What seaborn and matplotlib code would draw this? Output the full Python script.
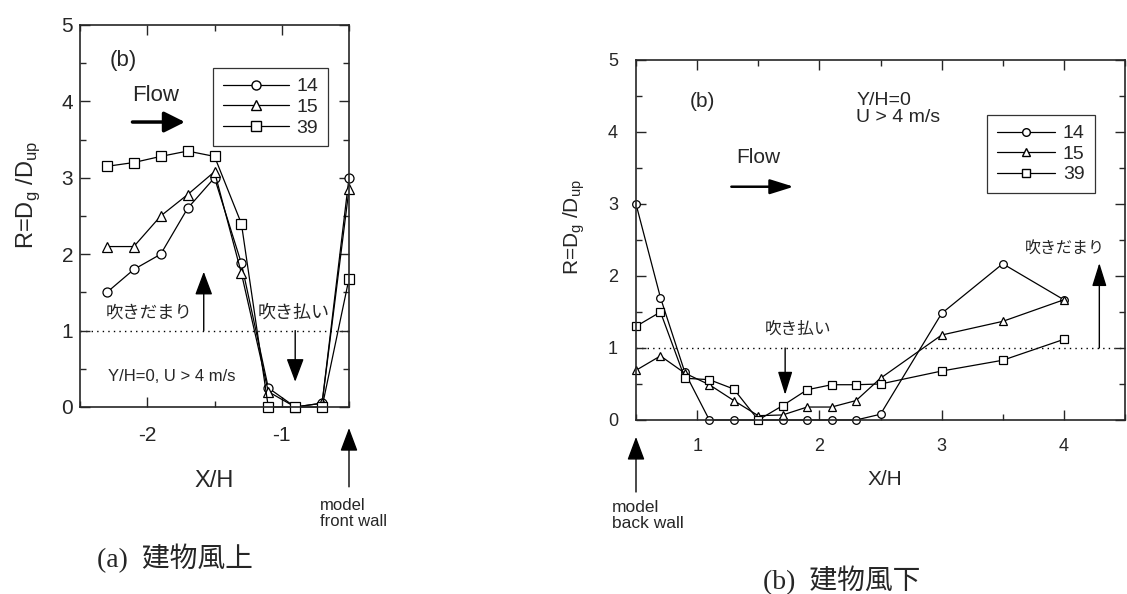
import numpy as np
import pandas as pd
import matplotlib
matplotlib.use("Agg")
import matplotlib.pyplot as plt
from matplotlib.lines import Line2D
from matplotlib.ticker import MultipleLocator
import seaborn as sns

# ---------------- DATA ----------------
cases = ["14", "15", "39"]
case_markers = {"14": "o", "15": "^", "39": "s"}

# (a) upwind side of the building
x_up = [-2.3, -2.1, -1.9, -1.7, -1.5, -1.3, -1.1, -0.9, -0.7, -0.5]
r_up_14 = [1.5, 1.8, 2.0, 2.6, 3.0, 1.88, 0.25, 0.0, 0.05, 3.0]
r_up_15 = [2.1, 2.1, 2.5, 2.78, 3.08, 1.75, 0.2, 0.0, 0.05, 2.85]
r_up_39 = [3.15, 3.2, 3.28, 3.35, 3.28, 2.4, 0.0, 0.0, 0.0, 1.68]

# (b) downwind side of the building
x_dn = [0.5, 0.7, 0.9, 1.1, 1.3, 1.5, 1.7, 1.9, 2.1, 2.3, 2.5, 3.0, 3.5, 4.0]
r_dn_14 = [3.0, 1.7, 0.66, 0.0, 0.0, 0.0, 0.0, 0.0, 0.0, 0.0, 0.08, 1.48, 2.17, 1.67]
r_dn_15 = [0.69, 0.89, 0.65, 0.49, 0.27, 0.06, 0.07, 0.18, 0.18, 0.27, 0.58, 1.18, 1.37, 1.67]
r_dn_39 = [1.3, 1.5, 0.58, 0.56, 0.43, 0.0, 0.2, 0.42, 0.49, 0.49, 0.5, 0.68, 0.83, 1.12]

up = pd.DataFrame({"x": x_up * 3,
                   "R": r_up_14 + r_up_15 + r_up_39,
                   "case": np.repeat(cases, len(x_up))})
dn = pd.DataFrame({"x": x_dn * 3,
                   "R": r_dn_14 + r_dn_15 + r_dn_39,
                   "case": np.repeat(cases, len(x_dn))})

# ---------------- STYLE ----------------
sns.set_style("ticks")
plt.rcParams["font.family"] = ["Liberation Sans", "Noto Sans CJK JP"]
plt.rcParams["axes.unicode_minus"] = False
plt.rcParams["mathtext.fontset"] = "custom"
plt.rcParams["mathtext.rm"] = "Liberation Sans"
jp = ["Noto Sans CJK JP", "Liberation Sans"]

fig = plt.figure(figsize=(11.27, 5.94), dpi=100)
W, H = 1127, 594
ax1 = fig.add_axes([80 / W, 1 - 407 / H, 269 / W, 382 / H])
ax2 = fig.add_axes([636 / W, 1 - 420 / H, 489 / W, 360 / H])

arrow_thin = "-|>,head_length=0.8,head_width=0.3"


def draw(ax, df, ms):
    sns.lineplot(data=df, x="x", y="R", style="case", markers=case_markers,
                 dashes=False, color="black", lw=0.9, markersize=ms,
                 markerfacecolor="white", markeredgecolor="black",
                 markeredgewidth=0.9, estimator=None, sort=False,
                 legend=False, ax=ax, clip_on=False)
    ax.axhline(1, ls=(0, (1, 3)), lw=1, color="black", zorder=0)
    for s in ax.spines.values():
        s.set_linewidth(1.2)
        s.set_visible(True)
    ax.set_ylim(0, 5)
    ax.yaxis.set_major_locator(MultipleLocator(1))
    ax.yaxis.set_minor_locator(MultipleLocator(0.5))
    ax.xaxis.set_minor_locator(MultipleLocator(0.5))
    ax.tick_params(which="both", direction="in", top=True, right=True,
                   width=1)
    ax.tick_params(which="major", length=7)
    ax.tick_params(which="minor", length=4)


def make_legend(ax, anchor, ms, fs, hl):
    handles = [Line2D([], [], color="black", lw=0.9, marker=case_markers[c],
                      markersize=ms, markerfacecolor="white",
                      markeredgecolor="black") for c in cases]
    leg = ax.legend(handles, cases, loc="upper left", bbox_to_anchor=anchor,
                    frameon=True, fancybox=False, edgecolor="black",
                    fontsize=fs, handlelength=hl, labelspacing=0.15,
                    borderaxespad=0, borderpad=0.5, handletextpad=0.4)
    leg.get_frame().set_linewidth(0.9)


# ---------------- (a) upwind ----------------
draw(ax1, up, 6.5)
ax1.set_xlim(-2.5, -0.5)
ax1.set_xticks([-2, -1])
ax1.tick_params(axis="x", labelsize=15, pad=14)
ax1.tick_params(axis="y", labelsize=15, pad=5)
ax1.set_xlabel("X/H", fontsize=17)
ax1.xaxis.set_label_coords(0.5, -0.165)
ax1.set_ylabel(r"R=D$_\mathregular{g}$ /D$_\mathregular{up}$", fontsize=17)
ax1.yaxis.set_label_coords(-0.14, 0.555)
make_legend(ax1, (0.494, 0.887), 6.5, 14, 3.4)

ax1.text(-2.28, 4.54, "(b)", fontsize=16, va="center")
ax1.text(-2.11, 4.08, "Flow", fontsize=16, va="center")
ax1.annotate("", xy=(-1.72, 3.73), xytext=(-2.11, 3.73),
             arrowprops=dict(arrowstyle="-|>,head_length=0.7,head_width=0.35",
                             mutation_scale=18, lw=2.5, color="black",
                             shrinkA=0, shrinkB=0))
ax1.text(-2.31, 1.24, "吹きだまり", fontsize=12.5, va="center", family=jp)
ax1.annotate("", xy=(-1.58, 1.77), xytext=(-1.58, 1.0),
             arrowprops=dict(arrowstyle=arrow_thin, mutation_scale=18, lw=1,
                             color="black", shrinkA=0, shrinkB=0))
ax1.text(-1.18, 1.24, "吹き払い", fontsize=13, va="center", family=jp)
ax1.annotate("", xy=(-0.9, 0.33), xytext=(-0.9, 1.0),
             arrowprops=dict(arrowstyle=arrow_thin, mutation_scale=18, lw=1,
                             color="black", shrinkA=0, shrinkB=0))
ax1.text(-2.29, 0.4, "Y/H=0, U > 4 m/s", fontsize=12, va="center")

ax1.annotate("", xy=(-0.5, -0.055), xytext=(-0.5, -0.209),
             xycoords=("data", "axes fraction"),
             textcoords=("data", "axes fraction"), annotation_clip=False,
             arrowprops=dict(arrowstyle=arrow_thin, mutation_scale=18, lw=1,
                             color="black", shrinkA=0, shrinkB=0))
fig.text(320 / W, 1 - 498 / H, "model\nfront wall", fontsize=12, va="top",
         linespacing=1.05)

# ---------------- (b) downwind ----------------
draw(ax2, dn, 5.5)
ax2.set_xlim(0.5, 4.5)
ax2.set_xticks([1, 2, 3, 4])
ax2.tick_params(axis="x", labelsize=13, pad=13)
ax2.tick_params(axis="y", labelsize=13, pad=13)
ax2.set_xlabel("X/H", fontsize=15)
ax2.xaxis.set_label_coords(0.51, -0.139)
ax2.set_ylabel(r"R=D$_\mathregular{g}$ /D$_\mathregular{up}$", fontsize=15)
ax2.yaxis.set_label_coords(-0.10, 0.536)
make_legend(ax2, (0.718, 0.847), 5.5, 14, 3.0)

ax2.text(0.94, 4.42, "(b)", fontsize=15, va="center")
ax2.text(1.32, 3.64, "Flow", fontsize=15, va="center")
ax2.annotate("", xy=(1.79, 3.24), xytext=(1.28, 3.24),
             arrowprops=dict(arrowstyle="-|>,head_length=0.8,head_width=0.25",
                             mutation_scale=18, lw=1.8, color="black",
                             shrinkA=0, shrinkB=0))
ax2.text(2.30, 4.56, "Y/H=0\nU > 4 m/s", fontsize=14, va="top",
         linespacing=1.0)
ax2.text(3.68, 2.39, "吹きだまり", fontsize=11.5, va="center", family=jp)
ax2.annotate("", xy=(4.29, 2.18), xytext=(4.29, 1.0),
             arrowprops=dict(arrowstyle="-|>,head_length=0.8,head_width=0.25",
                             mutation_scale=18, lw=1, color="black",
                             shrinkA=0, shrinkB=0))
ax2.text(1.55, 1.26, "吹き払い", fontsize=12, va="center", family=jp)
ax2.annotate("", xy=(1.72, 0.35), xytext=(1.72, 1.0),
             arrowprops=dict(arrowstyle="-|>,head_length=0.8,head_width=0.25",
                             mutation_scale=18, lw=1, color="black",
                             shrinkA=0, shrinkB=0))

ax2.annotate("", xy=(0.5, -0.047), xytext=(0.5, -0.2),
             xycoords=("data", "axes fraction"),
             textcoords=("data", "axes fraction"), annotation_clip=False,
             arrowprops=dict(arrowstyle=arrow_thin, mutation_scale=18, lw=1,
                             color="black", shrinkA=0, shrinkB=0))
fig.text(612 / W, 1 - 500 / H, "model\nback wall", fontsize=12.5, va="top",
         linespacing=1.05)

# ---------------- captions ----------------
cap = ["Liberation Serif", "Noto Sans CJK JP"]
fig.text(97 / W, 1 - 558 / H, "(a)  建物風上", fontsize=20, va="center",
         family=cap)
fig.text(763 / W, 1 - 580 / H, "(b)  建物風下", fontsize=20, va="center",
         family=cap)

fig.savefig("out.png", dpi=100)
